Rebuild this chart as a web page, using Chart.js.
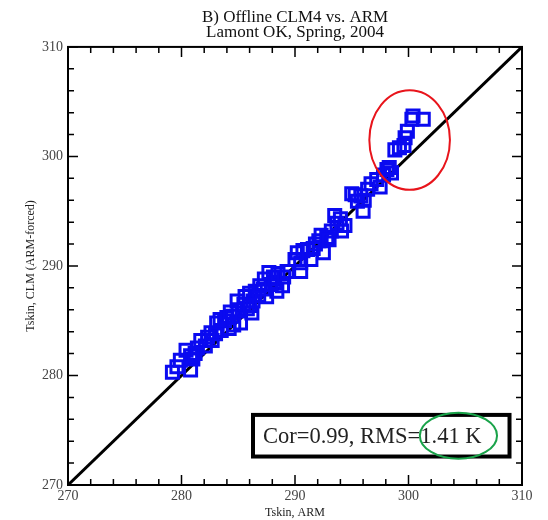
<!DOCTYPE html>
<html>
<head>
<meta charset="utf-8">
<script src="https://cdn.jsdelivr.net/npm/chart.js@4/dist/chart.umd.min.js"></script>
<style>
  html, body { margin: 0; padding: 0; background: #fff; }
</style>
</head>
<body>
<canvas id="grafico" width="548" height="520"></canvas>
<script>
// Tskin values (K)
const armTskin = [
  279.2, 279.6, 280.8, 279.9, 280.4, 280.8, 281.4, 281.7, 282.1, 282.6,
  282.7, 283.1, 283.5, 283.8, 284.2, 284.5, 284.9, 285.2, 285.6, 285.8,
  286.3, 286.5, 286.8, 287.2, 287.3, 287.7, 288.1, 288.4, 288.2, 288.9,
  289.3, 290.5, 290.5, 290.7, 291.1, 291.4, 291.8, 292.1, 292.5, 292.8,
  293.2, 293.5, 293.7, 294.1, 294.4, 295.0, 295.5, 295.8, 296.0, 296.4,
  296.7, 297.2, 297.8, 298.1, 298.5, 298.8, 299.2, 299.6, 299.7, 299.9,
  300.3, 300.4, 301.3,
  281.0, 281.2, 282.3, 283.0, 283.4, 284.0, 284.6, 285.0, 285.5, 286.0,
  286.2, 286.9, 287.5, 287.9, 288.5, 289.0, 290.0, 290.2, 291.6, 292.3,
  293.0, 294.0, 295.3, 296.1, 297.5, 298.3, 286.0, 284.3
];
const clmTskin = [
  280.3, 280.8, 280.5, 281.4, 282.3, 281.8, 282.5, 283.2, 282.7, 283.9,
  283.2, 284.8, 284.1, 285.0, 284.3, 285.4, 286.8, 284.8, 287.2, 286.1,
  286.8, 287.7, 287.3, 287.9, 288.8, 289.4, 289.0, 287.7, 288.5, 288.2,
  289.5, 289.5, 290.3, 291.4, 291.5, 290.6, 292.0, 292.3, 291.2, 292.6,
  293.2, 294.6, 293.9, 293.2, 293.7, 296.6, 295.9, 296.4, 295.0, 297.0,
  297.5, 297.9, 298.3, 298.8, 298.5, 300.6, 300.8, 301.0, 301.7, 302.3,
  303.4, 303.7, 303.4,
  281.5, 282.0, 283.5, 283.8, 285.1, 285.3, 284.6, 286.0, 286.5, 287.5,
  285.7, 288.2, 287.2, 288.3, 289.3, 289.0, 290.6, 291.2, 291.6, 292.8,
  292.4, 294.3, 296.5, 296.0, 297.2, 299.0, 286.4, 285.8
];
const oneToOne = [270, 310];
const axisMin = 270;
const axisMax = 310;
const statText = 'Cor=0.99, RMS=1.41 K';

const serif = '"Liberation Serif", "DejaVu Serif", serif';

let pontos = armTskin.map((v, i) => ({ x: v, y: clmTskin[i] }));
let linha = oneToOne.map(v => ({ x: v, y: v }));

// inward ticks on all 4 sides + box + marks
const extras = {
  id: 'extras',
  afterDraw(chart) {
    const c = chart.ctx;
    const a = chart.chartArea;
    const sx = chart.scales.x, sy = chart.scales.y;
    c.save();
    c.strokeStyle = '#000';
    c.lineWidth = 2;
    c.strokeRect(a.left, a.top, a.right - a.left, a.bottom - a.top);
    c.lineWidth = 1.5;
    for (let v = axisMin; v <= axisMax; v += 2) {
      const len = (v % 10 === 0) ? 10 : 6;
      const px = sx.getPixelForValue(v);
      const py = sy.getPixelForValue(v);
      c.beginPath();
      c.moveTo(px, a.bottom); c.lineTo(px, a.bottom - len);
      c.moveTo(px, a.top); c.lineTo(px, a.top + len);
      c.moveTo(a.left, py); c.lineTo(a.left + len, py);
      c.moveTo(a.right, py); c.lineTo(a.right - len, py);
      c.stroke();
    }

    // stats box
    const bx1 = sx.getPixelForValue(286.3), bx2 = sx.getPixelForValue(308.9);
    const by1 = sy.getPixelForValue(276.4), by2 = sy.getPixelForValue(272.6);
    c.fillStyle = '#fff';
    c.fillRect(bx1, by1, bx2 - bx1, by2 - by1);
    c.lineWidth = 4;
    c.strokeRect(bx1, by1, bx2 - bx1, by2 - by1);
    c.fillStyle = '#222';
    c.font = '22.5px ' + serif;
    c.textBaseline = 'middle';
    c.fillText(statText, bx1 + 10, (by1 + by2) / 2 + 1);

    // red ellipse
    c.lineWidth = 2;
    c.strokeStyle = '#e8141b';
    c.beginPath();
    c.ellipse(sx.getPixelForValue(300.1), sy.getPixelForValue(301.5),
      sx.getPixelForValue(303.65) - sx.getPixelForValue(300.1),
      sy.getPixelForValue(296.95) - sy.getPixelForValue(301.5), 0, 0, Math.PI * 2);
    c.stroke();

    // green ellipse
    c.strokeStyle = '#1aa34a';
    c.beginPath();
    c.ellipse(sx.getPixelForValue(304.4), sy.getPixelForValue(274.5),
      sx.getPixelForValue(307.8) - sx.getPixelForValue(304.4),
      sy.getPixelForValue(272.4) - sy.getPixelForValue(274.5), 0, 0, Math.PI * 2);
    c.stroke();
    c.restore();
  }
};

window.onload = function() {
  let ctx = document.getElementById('grafico').getContext('2d');
  new Chart(ctx, {
    type: 'scatter',
    data: {
      datasets: [{
        data: pontos,
        pointStyle: 'rect',
        pointRadius: 8.5,
        pointHoverRadius: 8.5,
        borderColor: '#0a0af0',
        backgroundColor: 'rgba(0,0,0,0)',
        pointBorderWidth: 3,
        borderWidth: 3
      }, {
        type: 'line',
        data: linha,
        borderColor: '#000',
        borderWidth: 3,
        pointRadius: 0,
        fill: false
      }]
    },
    options: {
      responsive: false,
      animation: false,
      layout: { padding: { left: 18, right: 26, top: 0, bottom: 0 } },
      plugins: {
        legend: { display: false },
        tooltip: { enabled: false },
        title: {
          display: true,
          fullSize: false,
          text: ['B) Offline CLM4 vs. ARM', 'Lamont OK, Spring, 2004'],
          color: '#111',
          font: { family: serif, size: 17, weight: 'normal', lineHeight: 0.88 },
          padding: { top: 10, bottom: 7 }
        }
      },
      scales: {
        x: {
          type: 'linear',
          min: axisMin, max: axisMax,
          ticks: { stepSize: 10, color: '#444', font: { family: serif, size: 14 }, padding: 3 },
          grid: { display: false, drawTicks: false },
          border: { display: false },
          title: { display: true, text: 'Tskin, ARM', color: '#222', font: { family: serif, size: 12 }, padding: 0 },
          afterFit(s) { s.height = 35; }
        },
        y: {
          type: 'linear',
          min: axisMin, max: axisMax,
          ticks: { stepSize: 10, color: '#444', font: { family: serif, size: 14 }, padding: 5 },
          grid: { display: false, drawTicks: false },
          border: { display: false },
          title: { display: true, text: 'Tskin, CLM (ARM-forced)', color: '#222', font: { family: serif, size: 12 }, padding: 6 },
          afterFit(s) { s.width = 50; }
        }
      }
    },
    plugins: [extras]
  });
};
</script>
</body>
</html>
